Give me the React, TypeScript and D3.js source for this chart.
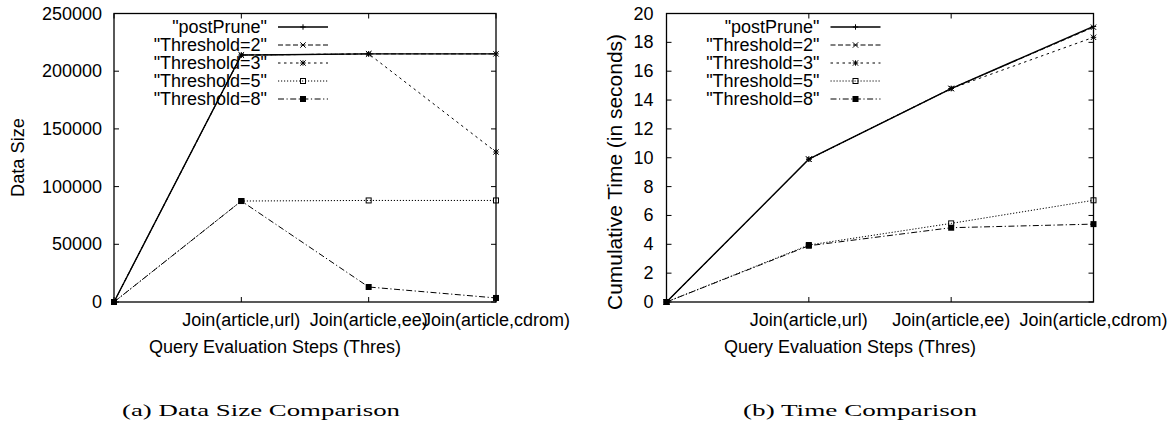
import React from "react";
import * as d3 from "d3";

// -- DATA --
const steps = ["", "Join(article,url)", "Join(article,ee)", "Join(article,cdrom)"];
const seriesNames = ['"postPrune"', '"Threshold=2"', '"Threshold=3"', '"Threshold=5"', '"Threshold=8"'];

// data size per step
const sizePostPrune = [0, 214000, 215000, 215000];
const sizeThres2 = [0, 214000, 215000, 215000];
const sizeThres3 = [0, 214000, 215000, 130000];
const sizeThres5 = [0, 87500, 88000, 88000];
const sizeThres8 = [0, 87500, 13000, 3500];

// cumulative time (s) per step
const timePostPrune = [0, 9.9, 14.8, 19.1];
const timeThres2 = [0, 9.9, 14.8, 19.05];
const timeThres3 = [0, 9.9, 14.8, 18.35];
const timeThres5 = [0, 3.95, 5.45, 7.05];
const timeThres8 = [0, 3.9, 5.15, 5.4];

const sizeTicks = [0, 50000, 100000, 150000, 200000, 250000];
const timeTicks = [0, 2, 4, 6, 8, 10, 12, 14, 16, 18, 20];

// gnuplot-ish line types: dash + point type
const dashes = [null, "5,2.5", "2.5,3.5", "1.2,1.8", "6,2.5,1.2,2.5"];
const points = ["plus", "cross", "star", "box", "fbox"];

const SANS = "'Liberation Sans', Arial, Helvetica, sans-serif";
const SERIF = "'Liberation Serif', 'Times New Roman', serif";

const Marker = ({ type, x, y }) => {
  const r = 2.7;
  if (type === "plus")
    return <path d={`M${x - r},${y}H${x + r}M${x},${y - r}V${y + r}`} stroke="#000" strokeWidth={1} />;
  if (type === "cross")
    return <path d={`M${x - r},${y - r}L${x + r},${y + r}M${x - r},${y + r}L${x + r},${y - r}`} stroke="#000" strokeWidth={1} />;
  if (type === "star")
    return (
      <path
        d={`M${x - r},${y}H${x + r}M${x},${y - r}V${y + r}M${x - r},${y - r}L${x + r},${y + r}M${x - r},${y + r}L${x + r},${y - r}`}
        stroke="#000"
        strokeWidth={1}
      />
    );
  if (type === "box")
    return <rect x={x - 2.5} y={y - 2.5} width={5} height={5} fill="none" stroke="#000" strokeWidth={1} />;
  return <rect x={x - 3} y={y - 3} width={6} height={6} fill="#000" />;
};

const Panel = ({ left, right, series, yMax, yTicks, ylabel, ylabelX, ylabelY, ylabelSize, ylabelLen, tickGap }) => {
  const top = 13.5;
  const bottom = 302;
  const x = d3.scaleLinear().domain([0, 3]).range([left, right]);
  const y = d3.scaleLinear().domain([0, yMax]).range([bottom, top]);
  const line = d3
    .line()
    .x((d, i) => x(i))
    .y((d) => y(d));

  return (
    <g fontFamily={SANS} fill="#000">
      {/* y ticks, mirrored */}
      {yTicks.map((t) => (
        <g key={"y" + t}>
          <line x1={left} x2={left + 5} y1={y(t)} y2={y(t)} stroke="#000" />
          <line x1={right} x2={right - 5} y1={y(t)} y2={y(t)} stroke="#000" />
          <text x={left - tickGap} y={y(t) + 6} fontSize={18} textAnchor="end">
            {t}
          </text>
        </g>
      ))}
      {/* x ticks, mirrored */}
      {steps.map((s, i) => (
        <g key={"x" + i}>
          <line x1={x(i)} x2={x(i)} y1={bottom} y2={bottom - 5} stroke="#000" />
          <line x1={x(i)} x2={x(i)} y1={top} y2={top + 5} stroke="#000" />
          <text x={x(i)} y={326} fontSize={18} textAnchor="middle">
            {s}
          </text>
        </g>
      ))}
      <text x={(left + right) / 2 - 30} y={353} fontSize={18} textAnchor="middle">
        Query Evaluation Steps (Thres)
      </text>
      <text
        transform={`translate(${ylabelX},${ylabelY}) rotate(-90)`}
        fontSize={ylabelSize}
        textAnchor="middle"
        dy="0.35em"
        textLength={ylabelLen}
        lengthAdjust="spacingAndGlyphs"
      >
        {ylabel}
      </text>

      {/* series */}
      {series.map((vals, k) => (
        <g key={"s" + k}>
          <path
            d={line(vals)}
            fill="none"
            stroke="#000"
            strokeWidth={k === 0 ? 1.4 : 1}
            strokeDasharray={dashes[k] || undefined}
          />
          {vals.map((v, i) => (
            <Marker key={i} type={points[k]} x={x(i)} y={y(v)} />
          ))}
        </g>
      ))}

      {/* legend */}
      {seriesNames.map((name, k) => {
        const ly = 27 + 18 * k;
        return (
          <g key={"l" + k}>
            <text x={left + 153} y={ly + 6} fontSize={18} textAnchor="end">
              {name}
            </text>
            <line
              x1={left + 164}
              x2={left + 214}
              y1={ly}
              y2={ly}
              stroke="#000"
              strokeWidth={k === 0 ? 1.4 : 1}
              strokeDasharray={dashes[k] || undefined}
            />
            <Marker type={points[k]} x={left + 189} y={ly} />
          </g>
        );
      })}

      {/* border */}
      <rect x={left} y={top} width={right - left} height={bottom - top} fill="none" stroke="#000" strokeWidth={1.3} />
    </g>
  );
};

export default function App() {
  const sizeSeries = [sizePostPrune, sizeThres2, sizeThres3, sizeThres5, sizeThres8];
  const timeSeries = [timePostPrune, timeThres2, timeThres3, timeThres5, timeThres8];
  return (
    <svg width={1175} height={428} style={{ position: "absolute", left: 0, top: 0, background: "#fff" }}>
      <Panel
        left={114}
        right={496}
        series={sizeSeries}
        yMax={250000}
        yTicks={sizeTicks}
        ylabel="Data Size"
        ylabelX={18}
        ylabelY={157.5}
        ylabelSize={18}
        ylabelLen={79}
        tickGap={12}
      />
      <Panel
        left={666.5}
        right={1093.5}
        series={timeSeries}
        yMax={20}
        yTicks={timeTicks}
        ylabel="Cumulative Time (in seconds)"
        ylabelX={615}
        ylabelY={172}
        ylabelSize={20}
        ylabelLen={276}
        tickGap={13}
      />
      <text x={122} y={416} fontFamily={SERIF} fontSize={17.5} textLength={278} lengthAdjust="spacingAndGlyphs">
        (a) Data Size Comparison
      </text>
      <text x={743} y={416} fontFamily={SERIF} fontSize={17.5} textLength={234} lengthAdjust="spacingAndGlyphs">
        (b) Time Comparison
      </text>
    </svg>
  );
}
